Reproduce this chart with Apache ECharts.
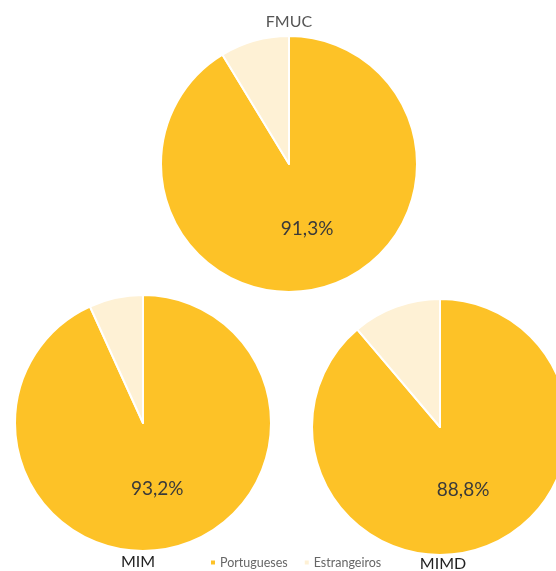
<!DOCTYPE html>
<html><head><meta charset="utf-8">
<script src="https://cdn.jsdelivr.net/npm/echarts@6/dist/echarts.min.js"></script>
<style>html,body{margin:0;padding:0;background:#fff}#c{width:556px;height:571px}</style>
</head><body><div id="c"></div>
<script>
const categories = ['Portugueses', 'Estrangeiros'];
const chartNames = ['FMUC', 'MIM', 'MIMD'];
const fmucValues = [91.3, 8.7];
const mimValues = [93.2, 6.8];
const mimdValues = [88.8, 11.2];
const colors = ['#FDC227', '#FEF1D5'];

const layouts = [
  {center: [289, 164], title: [289, 22]},
  {center: [143, 423], title: [138, 562]},
  {center: [440, 427], title: [443, 564]}
];
const allValues = [fmucValues, mimValues, mimdValues];
const font = 'Lato, "Open Sans", sans-serif';

const chart = echarts.init(document.getElementById('c'), null, {renderer: 'canvas'});
chart.setOption({
  animation: false,
  color: colors,
  legend: {
    data: categories,
    left: 204,
    top: 551,
    icon: 'rect',
    itemWidth: 6,
    itemHeight: 6,
    itemGap: 15,
    textStyle: {fontFamily: font, fontSize: 12.5, color: '#666', padding: [0, 0, 0, -1]}
  },
  graphic: chartNames.map((n, i) => ({
    type: 'text',
    x: layouts[i].title[0],
    y: layouts[i].title[1],
    style: {text: n, fontFamily: font, fontSize: 16, fill: i === 0 ? '#555' : '#222', align: 'center', verticalAlign: 'middle'}
  })),
  series: chartNames.map((n, i) => ({
    type: 'pie',
    name: n,
    center: layouts[i].center,
    radius: [0, 128],
    startAngle: 90,
    clockwise: true,
    itemStyle: {borderColor: '#fff', borderWidth: 2},
    label: {
      position: 'inside',
      fontFamily: font,
      fontSize: 19,
      color: '#3a3a3a',
      formatter: p => p.dataIndex === 0 ? p.value.toFixed(1).replace('.', ',') + '%' : ''
    },
    labelLine: {show: false},
    emphasis: {disabled: true},
    data: categories.map((c, k) => ({name: c, value: allValues[i][k]}))
  }))
});
</script></body></html>
